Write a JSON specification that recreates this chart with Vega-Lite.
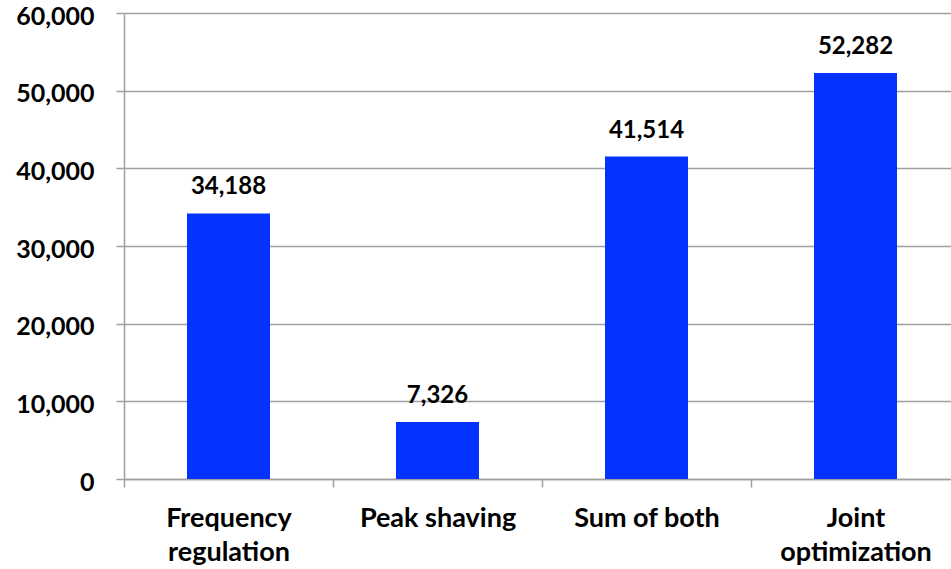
{
  "$schema": "https://vega.github.io/schema/vega-lite/v6.json",
  "autosize": "none",
  "width": 836,
  "height": 466,
  "padding": {"left": 124, "top": 13, "right": 0, "bottom": 90},
  "background": "white",
  "config": {
    "view": {"stroke": null},
    "font": "Lato",
    "axis": {
      "labelFont": "Lato",
      "labelFontWeight": "bold",
      "labelFontSize": 25,
      "labelColor": "#000000",
      "domainColor": "#a0a0a0",
      "domainWidth": 1.5,
      "tickColor": "#a0a0a0",
      "tickWidth": 1.5,
      "tickSize": 8,
      "gridColor": "#a0a0a0",
      "gridWidth": 1.5,
      "title": null
    }
  },
  "data": {
    "values": [
      {"strategy": "Frequency regulation", "value": 34188},
      {"strategy": "Peak shaving", "value": 7326},
      {"strategy": "Sum of both", "value": 41514},
      {"strategy": "Joint optimization", "value": 52282}
    ]
  },
  "encoding": {
    "x": {
      "field": "strategy",
      "type": "nominal",
      "sort": null,
      "scale": {"paddingInner": 0, "paddingOuter": 0},
      "axis": {
        "labelAngle": 0,
        "labelFontSize": 27,
        "tickBand": "extent",
        "labelExpr": "datum.value == 'Frequency regulation' ? ['Frequency', 'regulation'] : datum.value == 'Joint optimization' ? ['Joint', 'optimization'] : datum.value",
        "labelLineHeight": 34,
        "labelPadding": 18,
        "labelBaseline": "top",
        "domain": true,
        "grid": false
      }
    },
    "y": {
      "field": "value",
      "type": "quantitative",
      "scale": {"domain": [0, 60000], "nice": false},
      "axis": {
        "values": [0, 10000, 20000, 30000, 40000, 50000, 60000],
        "format": ",d",
        "grid": true,
        "labelPadding": 22,
        "labelBaseline": "middle",
        "labelOffset": 3
      }
    }
  },
  "layer": [
    {
      "mark": {"type": "bar", "size": 83, "color": "#0433ff"}
    },
    {
      "mark": {
        "type": "text",
        "baseline": "alphabetic",
        "dy": -19,
        "fontSize": 24,
        "fontWeight": "bold",
        "font": "Lato",
        "color": "#000000"
      },
      "encoding": {"text": {"field": "value", "type": "quantitative", "format": ",d"}}
    }
  ]
}
